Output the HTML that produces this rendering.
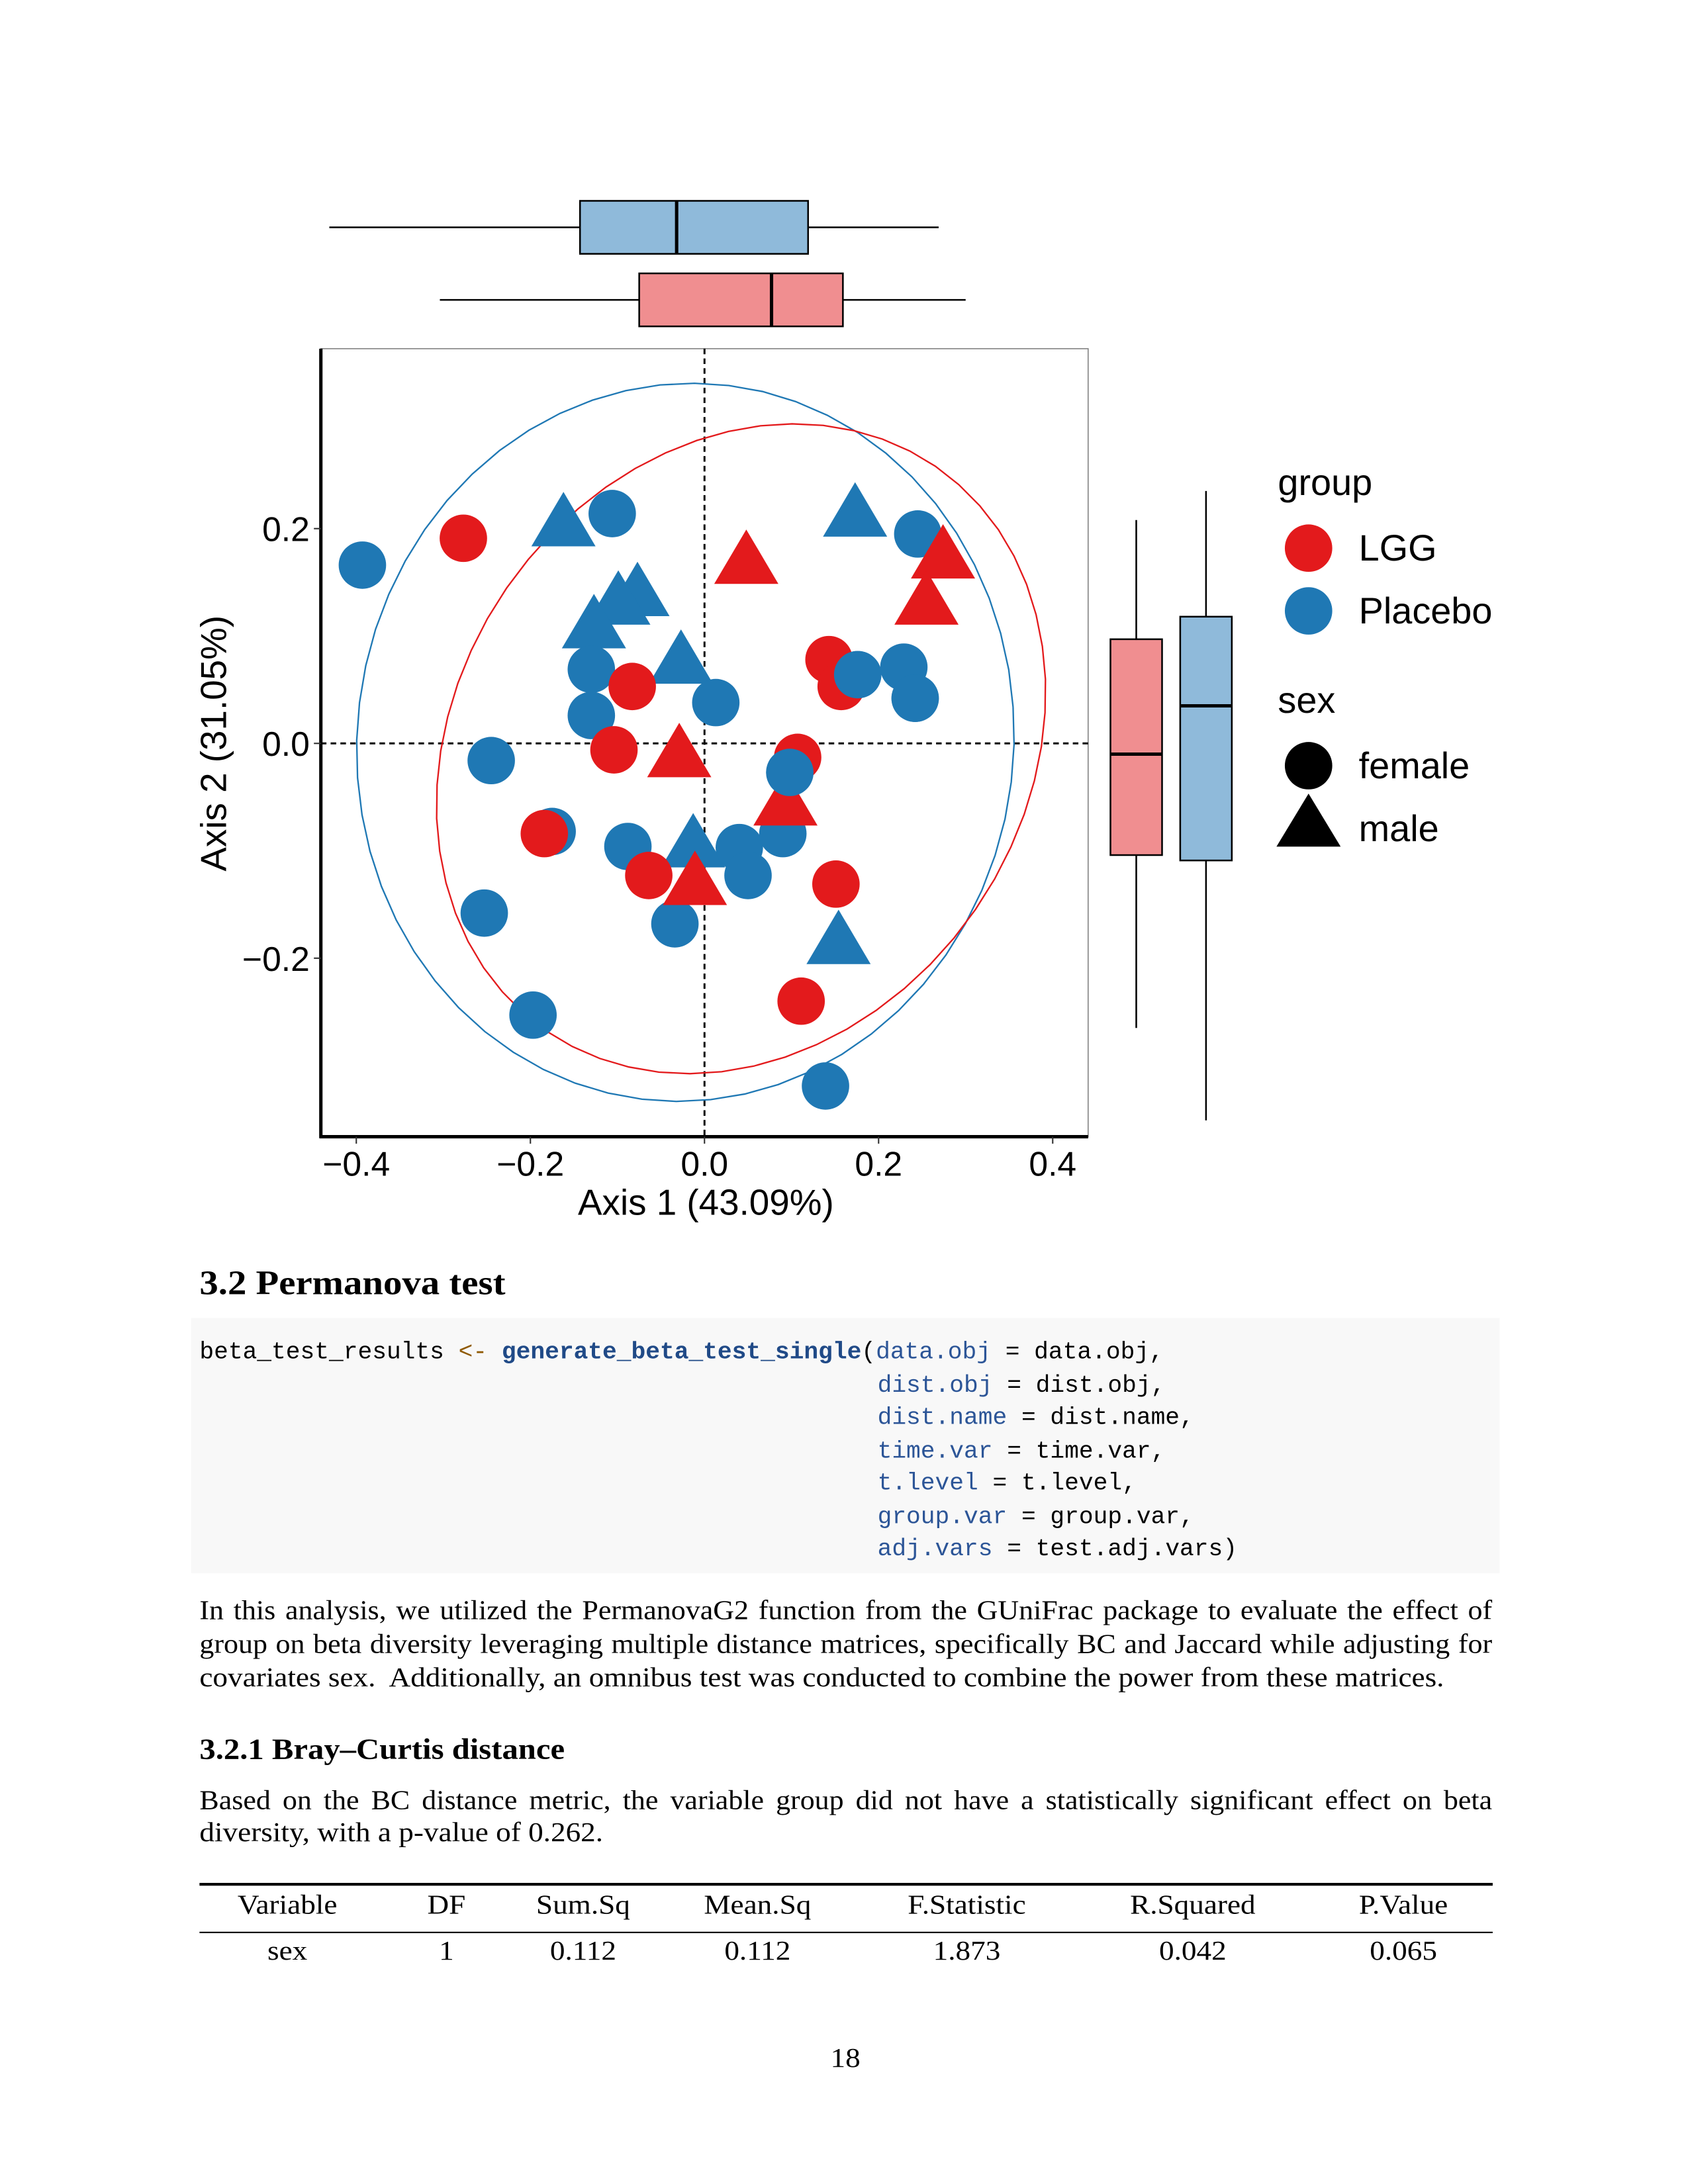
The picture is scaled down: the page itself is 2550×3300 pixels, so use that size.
<!DOCTYPE html>
<html><head><meta charset="utf-8">
<style>
html,body{margin:0;padding:0;background:#fff;}
body{width:2550px;height:3300px;overflow:hidden;position:relative;}
#pg{position:absolute;left:0;top:0;width:1210px;height:1566px;transform:scale(2.10744);transform-origin:0 0;}
.ser{font-family:"Liberation Serif",serif;color:#000;position:absolute;transform-origin:0 0;}
.sx{transform:scaleX(1.1);}
.sj{transform:scaleX(1.07);}
.mono{font-family:"Liberation Mono",monospace;font-size:17.2px;position:absolute;white-space:pre;color:#000;}
.arg{color:#2c5597;} .fn{color:#204a87;font-weight:bold;} .op{color:#8f5902;}
.jl{text-align:justify;text-align-last:justify;width:866px;font-size:19.5px;white-space:nowrap;}
.th{position:absolute;font-size:19.5px;transform:translateX(-50%) scaleX(1.1);transform-origin:50% 0;white-space:nowrap;}
</style></head>
<body>
<div id="pg">
<svg id="chart" width="1210" height="900" style="position:absolute;left:0;top:0" font-family="Liberation Sans, sans-serif"></svg>

<div class="ser sx" style="left:143px;top:907px;font-size:24.5px;font-weight:bold;">3.2 Permanova test</div>
<div style="position:absolute;left:137px;top:945px;width:938px;height:183px;background:#f8f8f8;"></div>
<div class="mono" style="left:143px;top:961px;">beta_test_results <span class="op">&lt;-</span> <span class="fn">generate_beta_test_single</span>(<span class="arg">data.obj</span> = data.obj,</div>
<div class="mono" style="left:629px;top:985px;"><span class="arg">dist.obj</span> = dist.obj,</div>
<div class="mono" style="left:629px;top:1008px;"><span class="arg">dist.name</span> = dist.name,</div>
<div class="mono" style="left:629px;top:1032px;"><span class="arg">time.var</span> = time.var,</div>
<div class="mono" style="left:629px;top:1055px;"><span class="arg">t.level</span> = t.level,</div>
<div class="mono" style="left:629px;top:1079px;"><span class="arg">group.var</span> = group.var,</div>
<div class="mono" style="left:629px;top:1102px;"><span class="arg">adj.vars</span> = test.adj.vars)</div>

<div class="ser sj jl" style="left:143px;top:1145px;">In this analysis, we utilized the PermanovaG2 function from the GUniFrac package to evaluate the effect of</div>
<div class="ser sj jl" style="left:143px;top:1169px;">group on beta diversity leveraging multiple distance matrices, specifically BC and Jaccard while adjusting for</div>
<div class="ser sx" style="left:143px;top:1193px;font-size:19.5px;white-space:nowrap;">covariates sex.&nbsp; Additionally, an omnibus test was conducted to combine the power from these matrices.</div>

<div class="ser sx" style="left:143px;top:1242px;font-size:21px;font-weight:bold;">3.2.1 Bray–Curtis distance</div>
<div class="ser sj jl" style="left:143px;top:1281px;">Based on the BC distance metric, the variable group did not have a statistically significant effect on beta</div>
<div class="ser sx" style="left:143px;top:1304px;font-size:19.5px;">diversity, with a p-value of 0.262.</div>

<div style="position:absolute;left:143px;top:1350px;width:927px;height:2px;background:#000;"></div>
<div style="position:absolute;left:143px;top:1385px;width:927px;height:1px;background:#000;"></div>
<div class="ser th" style="left:206px;top:1356px;">Variable</div>
<div class="ser th" style="left:320px;top:1356px;">DF</div>
<div class="ser th" style="left:418px;top:1356px;">Sum.Sq</div>
<div class="ser th" style="left:543px;top:1356px;">Mean.Sq</div>
<div class="ser th" style="left:693px;top:1356px;">F.Statistic</div>
<div class="ser th" style="left:855px;top:1356px;">R.Squared</div>
<div class="ser th" style="left:1006px;top:1356px;">P.Value</div>
<div class="ser th" style="left:206px;top:1389px;">sex</div>
<div class="ser th" style="left:320px;top:1389px;">1</div>
<div class="ser th" style="left:418px;top:1389px;">0.112</div>
<div class="ser th" style="left:543px;top:1389px;">0.112</div>
<div class="ser th" style="left:693px;top:1389px;">1.873</div>
<div class="ser th" style="left:855px;top:1389px;">0.042</div>
<div class="ser th" style="left:1006px;top:1389px;">0.065</div>
<div class="ser th" style="left:606px;top:1466px;">18</div>
</div>

<script>
// ---- data ----
const xTicks = [-0.4, -0.2, 0.0, 0.2, 0.4];
const yTicks = [-0.2, 0.0, 0.2];
const xTickLabels = ["\u22120.4", "\u22120.2", "0.0", "0.2", "0.4"];
const yTickLabels = ["\u22120.2", "0.0", "0.2"];
const placeboFemaleX = [-0.393,-0.106,0.245,-0.130,-0.130,0.013,0.176,0.229,0.242,-0.245,0.098,-0.175,-0.088,0.040,0.090,0.050,-0.034,-0.253,-0.197,0.139];
const placeboFemaleY = [0.166,0.214,0.195,0.069,0.026,0.038,0.064,0.071,0.042,-0.016,-0.027,-0.082,-0.096,-0.097,-0.084,-0.123,-0.168,-0.158,-0.253,-0.319];
const lggFemaleX = [-0.277,-0.083,0.143,0.157,-0.104,0.107,-0.184,-0.064,0.151,0.111];
const lggFemaleY = [0.191,0.053,0.078,0.053,-0.006,-0.013,-0.084,-0.123,-0.131,-0.240];
const placeboMaleX = [-0.162,0.173,-0.077,-0.099,-0.127,-0.027,-0.013,0.154];
const placeboMaleY = [0.203,0.212,0.138,0.130,0.108,0.075,-0.096,-0.186];
const lggMaleX = [0.048,0.274,0.255,-0.029,0.093,-0.011];
const lggMaleY = [0.168,0.173,0.130,-0.012,-0.057,-0.131];
// ellipses: [cx, cy, rx, ry, angle(deg)]
const placeboEllipse = [-0.022, 0.001, 0.378, 0.334, 5];
const lggEllipse = [0.042, -0.005, 0.362, 0.288, 25];
// boxplots: [lowWhisker, q1, median, q3, highWhisker]
const placeboBoxX = [-0.431, -0.143, -0.032, 0.119, 0.269];
const lggBoxX = [-0.304, -0.075, 0.077, 0.159, 0.300];
const lggBoxY = [-0.265, -0.104, -0.010, 0.097, 0.208];
const placeboBoxY = [-0.351, -0.109, 0.035, 0.118, 0.235];

const RED = "#E31A1C", BLUE = "#1F78B4";
const X = v => 505 + v * 624;
const Y = v => 533 - v * 770;
const svg = document.getElementById('chart');
const NS = "http://www.w3.org/2000/svg";
function mk(tag, attrs, parent) {
  const e = document.createElementNS(NS, tag);
  for (const k in attrs) e.setAttribute(k, attrs[k]);
  (parent || svg).appendChild(e);
  return e;
}
const panel = mk('rect', {x:230, y:250, width:550, height:565, fill:'#fff', stroke:'#888', 'stroke-width':0.8});


const vz = mk('line', {x1:X(0), x2:X(0), y1:250, y2:815, stroke:'#000', 'stroke-width':1.4, 'stroke-dasharray':'4,3'});


const hz = mk('line', {x1:230, x2:780, y1:Y(0), y2:Y(0), stroke:'#000', 'stroke-width':1.4, 'stroke-dasharray':'4,3'});



function ellipse(p, color, name) {
  const [cx, cy, rx, ry, ang] = p;
  const a = ang * Math.PI / 180;
  const pts = [];
  for (let i = 0; i <= 60; i++) {
    const t = i / 60 * 2 * Math.PI;
    const ex = rx * Math.cos(t), ey = ry * Math.sin(t);
    pts.push(X(cx + ex * Math.cos(a) - ey * Math.sin(a)).toFixed(1) + ',' + Y(cy + ex * Math.sin(a) + ey * Math.cos(a)).toFixed(1));
  }
  const e = mk('polyline', {points:pts.join(' '), fill:'none', stroke:color, 'stroke-width':1.1});
  
  
}
ellipse(placeboEllipse, BLUE, 'ellipse-placebo');
ellipse(lggEllipse, RED, 'ellipse-lgg');

function circles(xs, ys, color, name) {
  xs.forEach((v, i) => {
    const c = mk('circle', {cx:X(v), cy:Y(ys[i]), r:17, fill:color});
    
    
  });
}
function tris(xs, ys, color, name) {
  xs.forEach((v, i) => {
    const cx = X(v), cy = Y(ys[i]);
    const t = mk('polygon', {points:`${cx},${cy-24} ${cx-23},${cy+15} ${cx+23},${cy+15}`, fill:color});
    
    
  });
}
tris(placeboMaleX, placeboMaleY, BLUE, 'point-placebo-male');
circles(placeboFemaleX, placeboFemaleY, BLUE, 'point-placebo-female');
tris(lggMaleX, lggMaleY, RED, 'point-lgg-male');
circles(lggFemaleX, lggFemaleY, RED, 'point-lgg-female');
circles([placeboFemaleX[6], placeboFemaleX[10], placeboFemaleX[8]], [placeboFemaleY[6], placeboFemaleY[10], placeboFemaleY[8]], BLUE, 'point-placebo-female');

const ax = mk('line', {x1:230, x2:230, y1:250, y2:816, stroke:'#000', 'stroke-width':2.4});


const bx = mk('line', {x1:229, x2:780, y1:815, y2:815, stroke:'#000', 'stroke-width':2.4});


xTicks.forEach((v, i) => {
  const tk = mk('line', {x1:X(v), x2:X(v), y1:815, y2:820, stroke:'#333', 'stroke-width':1});
  
  
  const t = mk('text', {x:X(v), y:843, 'text-anchor':'middle', 'font-size':24.5});
  t.textContent = xTickLabels[i];
  
  
});
yTicks.forEach((v, i) => {
  const tk = mk('line', {x1:225, x2:230, y1:Y(v), y2:Y(v), stroke:'#333', 'stroke-width':1});
  
  
  const t = mk('text', {x:222, y:Y(v) + 9, 'text-anchor':'end', 'font-size':24.5});
  t.textContent = yTickLabels[i];
  
  
});
const xt = mk('text', {x:506, y:871, 'text-anchor':'middle', 'font-size':26});
xt.textContent = 'Axis 1 (43.09%)';


const yt = mk('text', {x:0, y:0, 'text-anchor':'middle', 'font-size':26, transform:'translate(162,533) rotate(-90)'});
yt.textContent = 'Axis 2 (31.05%)';



function hbox(b, yc, fill, name) {
  const g = mk('g', {});
  
  
  mk('line', {x1:X(b[0]), x2:X(b[4]), y1:yc, y2:yc, stroke:'#000', 'stroke-width':1.2}, g);
  mk('rect', {x:X(b[1]), y:yc - 19, width:X(b[3]) - X(b[1]), height:38, fill:fill, stroke:'#000', 'stroke-width':1.2}, g);
  mk('line', {x1:X(b[2]), x2:X(b[2]), y1:yc - 19, y2:yc + 19, stroke:'#000', 'stroke-width':2.4}, g);
}
hbox(placeboBoxX, 163, '#8FBADA', 'boxplot-x-placebo');
hbox(lggBoxX, 215, '#F08E90', 'boxplot-x-lgg');
function vbox(b, xc, fill, name) {
  const g = mk('g', {});
  
  
  mk('line', {x1:xc, x2:xc, y1:Y(b[0]), y2:Y(b[4]), stroke:'#000', 'stroke-width':1.2}, g);
  mk('rect', {x:xc - 18.5, y:Y(b[3]), width:37, height:Y(b[1]) - Y(b[3]), fill:fill, stroke:'#000', 'stroke-width':1.2}, g);
  mk('line', {x1:xc - 18.5, x2:xc + 18.5, y1:Y(b[2]), y2:Y(b[2]), stroke:'#000', 'stroke-width':2.4}, g);
}
vbox(lggBoxY, 814.5, '#F08E90', 'boxplot-y-lgg');
vbox(placeboBoxY, 864.5, '#8FBADA', 'boxplot-y-placebo');

function txt(s, x, y, name) {
  const t = mk('text', {x:x, y:y, 'font-size':26.5});
  t.textContent = s;
  
  
}
txt('group', 916, 355, 'legend-title-group');
const l1 = mk('circle', {cx:938, cy:393, r:17, fill:RED});


txt('LGG', 974, 402, 'legend-label-lgg');
const l2 = mk('circle', {cx:938, cy:438, r:17, fill:BLUE});


txt('Placebo', 974, 447, 'legend-label-placebo');
txt('sex', 916, 511, 'legend-title-sex');
const l3 = mk('circle', {cx:938, cy:549, r:17, fill:'#000'});


txt('female', 974, 558, 'legend-label-female');
const l4 = mk('polygon', {points:'938,569 915,607 961,607', fill:'#000'});


txt('male', 974, 603, 'legend-label-male');
</script>
</body></html>
